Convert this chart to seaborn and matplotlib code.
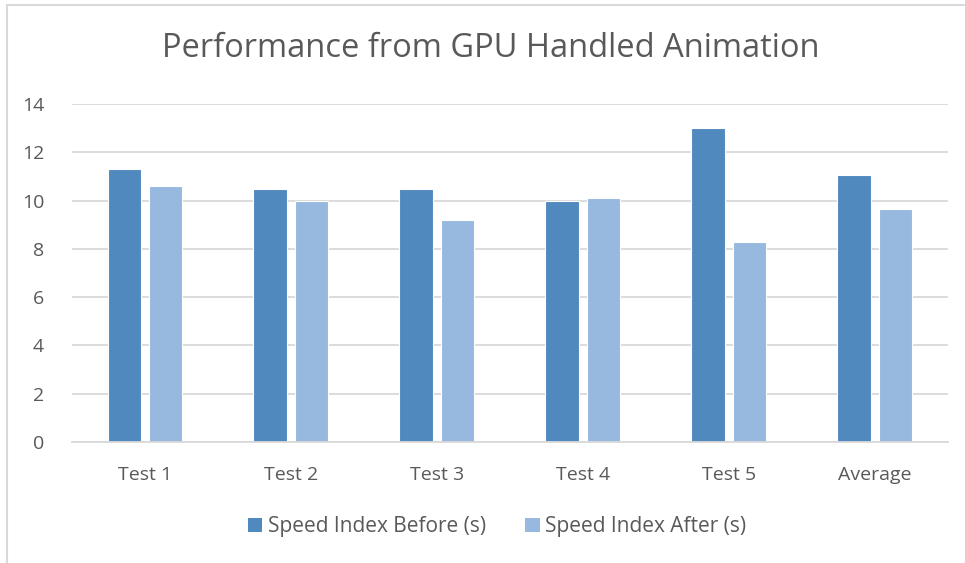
import matplotlib
matplotlib.use("Agg")
import matplotlib.pyplot as plt
from matplotlib.lines import Line2D
from matplotlib.patches import Patch
import seaborn as sns
import pandas as pd

tests = ["Test 1", "Test 2", "Test 3", "Test 4", "Test 5", "Average"]
before = [11.3, 10.5, 10.5, 10.0, 13.0, 11.06]
after = [10.6, 10.0, 9.2, 10.1, 8.3, 9.64]
series = ["Speed Index Before (s)", "Speed Index After (s)"]
colors = ["#4F89BD", "#97B8DF"]
grey = "#595959"

df = pd.DataFrame({"test": tests * 2,
                   "value": before + after,
                   "series": [series[0]] * len(tests) + [series[1]] * len(tests)})

sns.set_theme(style="white")
plt.rcParams["font.family"] = ["Open Sans", "DejaVu Sans"]

fig = plt.figure(figsize=(9.65, 5.63), dpi=100)
ax = fig.add_axes([0.0746, 0.215, 0.9074, 0.6])

sns.barplot(data=df, x="test", y="value", hue="series", order=tests,
            hue_order=series, palette=colors, saturation=1, width=0.57,
            gap=0.2, edgecolor="white", linewidth=0.8, ax=ax, legend=False)

ax.set_ylim(0, 14)
ax.set_yticks(range(0, 15, 2))
ax.yaxis.grid(True, color="#D9D9D9", linewidth=1.3)
ax.set_axisbelow(True)
sns.despine(ax=ax, left=True, top=True, right=True)
ax.spines["bottom"].set_color("#D9D9D9")
ax.spines["bottom"].set_linewidth(1.3)
ax.set_xlabel("")
ax.set_ylabel("")
ax.tick_params(axis="both", colors=grey, labelsize=14, length=0)
ax.tick_params(axis="y", pad=20)
ax.tick_params(axis="x", pad=17)

fig.text(0.509, 0.913, "Performance from GPU Handled Animation", ha="center",
         va="center", fontsize=23.5, color=grey)

handles = [Patch(facecolor=c, edgecolor="none") for c in colors]
fig.legend(handles, series, loc="center", bbox_to_anchor=(0.515, 0.064),
           ncol=2, frameon=False, fontsize=15, labelcolor=grey,
           handlelength=0.7, handleheight=0.7, handletextpad=0.25,
           columnspacing=1.9)

# outer chart frame (only top and left edges are visible in the crop)
fig.add_artist(Line2D([7 / 965, 1], [1 - 5 / 563, 1 - 5 / 563],
                      color="#D9D9D9", linewidth=1.5, transform=fig.transFigure))
fig.add_artist(Line2D([7 / 965, 7 / 965], [0, 1 - 5 / 563],
                      color="#D9D9D9", linewidth=1.5, transform=fig.transFigure))

plt.savefig("out.png", dpi=100)
